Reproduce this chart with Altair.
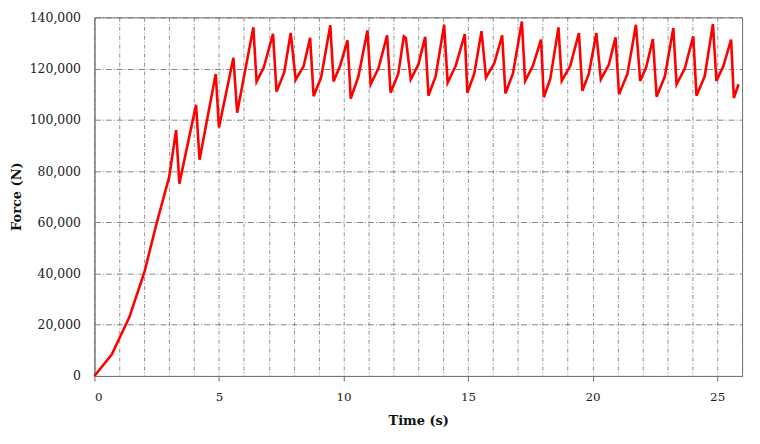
import altair as alt
import pandas as pd

time_s = [0, 0.7, 1.4, 2.0, 2.5, 3.0, 3.28, 3.41, 4.08, 4.22, 4.87, 5.0, 5.58, 5.73,
          6.38, 6.51, 6.8, 7.17, 7.31, 7.62, 7.88, 8.08, 8.4, 8.66, 8.8, 9.1, 9.47,
          9.6, 9.86, 10.16, 10.29, 10.6, 10.96, 11.09, 11.4, 11.75, 11.89, 12.2,
          12.42, 12.5, 12.7, 13.0, 13.28, 13.41, 13.7, 14.04, 14.18, 14.5, 14.87,
          14.97, 15.25, 15.54, 15.72, 16.05, 16.37, 16.5, 16.8, 17.16, 17.29, 17.6,
          17.93, 18.04, 18.3, 18.63, 18.76, 19.1, 19.45, 19.59, 19.85, 20.15, 20.33,
          20.65, 20.92, 21.06, 21.4, 21.74, 21.91, 22.15, 22.42, 22.57, 22.9, 23.24,
          23.37, 23.7, 24.04, 24.17, 24.5, 24.83, 24.97, 25.25, 25.56, 25.67, 25.86]
force_n = [0, 8500, 22900, 40300, 59700, 77600, 96000, 75100, 105900, 84400, 117900,
           97000, 124200, 102800, 136100, 114900, 120500, 133600, 111000, 118500,
           133900, 115700, 121000, 132000, 109200, 116500, 136900, 115000, 121000,
           131000, 108300, 117000, 134900, 113900, 120000, 133000, 110600, 118000,
           132600, 132000, 115800, 121500, 132400, 109400, 117000, 137100, 114500,
           121000, 133500, 110600, 118000, 134600, 116500, 122000, 133000, 110300,
           118000, 138400, 115200, 121000, 131300, 108800, 116000, 136100, 115200,
           121000, 133900, 111300, 118000, 133900, 115800, 121500, 132200, 110000,
           118000, 137100, 115200, 120500, 131500, 109000, 117000, 135800, 113900,
           120000, 132600, 109400, 117000, 137400, 115200, 121000, 131300, 108500,
           113900]

x_grid = list(range(0, 27))
y_ticks = [0, 20000, 40000, 60000, 80000, 100000, 120000, 140000]

df = pd.DataFrame({"t": time_s, "f": force_n})

FONT = "DejaVu Serif"

chart = alt.Chart(df).mark_line(color="#ff0000", strokeWidth=2.6, interpolate="linear").encode(
    x=alt.X("t:Q", title="Time (s)",
            scale=alt.Scale(domain=[0, 26], nice=False, zero=True),
            axis=alt.Axis(values=x_grid,
                          labelExpr="datum.value % 5 === 0 ? datum.label : ''",
                          tickColor=alt.condition("datum.value % 5 === 0", alt.value("#666"), alt.value("transparent")),
                          tickSize=5, labelPadding=11, titlePadding=12,
                          gridDash=[4, 2, 1, 2], gridColor="#777", gridWidth=0.8,
                          domainColor="#777", labelFont=FONT, labelFontSize=12,
                          titleFont=FONT, titleFontSize=13, titleFontWeight="bold",
                          labelColor="#222", titleColor="#111")),
    y=alt.Y("f:Q", title="Force (N)",
            scale=alt.Scale(domain=[0, 140000], nice=False),
            axis=alt.Axis(values=y_ticks, format=",d", tickSize=0, labelPadding=14,
                          titleX=-71, titleY=180, titleAngle=270,
                          gridDash=[6, 2, 1, 2], gridColor="#666", gridWidth=0.8,
                          domainColor="#777", labelFont=FONT, labelFontSize=12.5,
                          titleFont=FONT, titleFontSize=13, titleFontWeight="bold",
                          labelColor="#222", titleColor="#111")),
).properties(
    width=652, height=361,
    autosize=alt.AutoSizeParams(type="none"),
    padding={"left": 87, "top": 8, "right": 10, "bottom": 60},
).configure_view(stroke="#777", strokeWidth=1)

chart.save("out.html", embed_options={"renderer": "svg", "actions": False})
